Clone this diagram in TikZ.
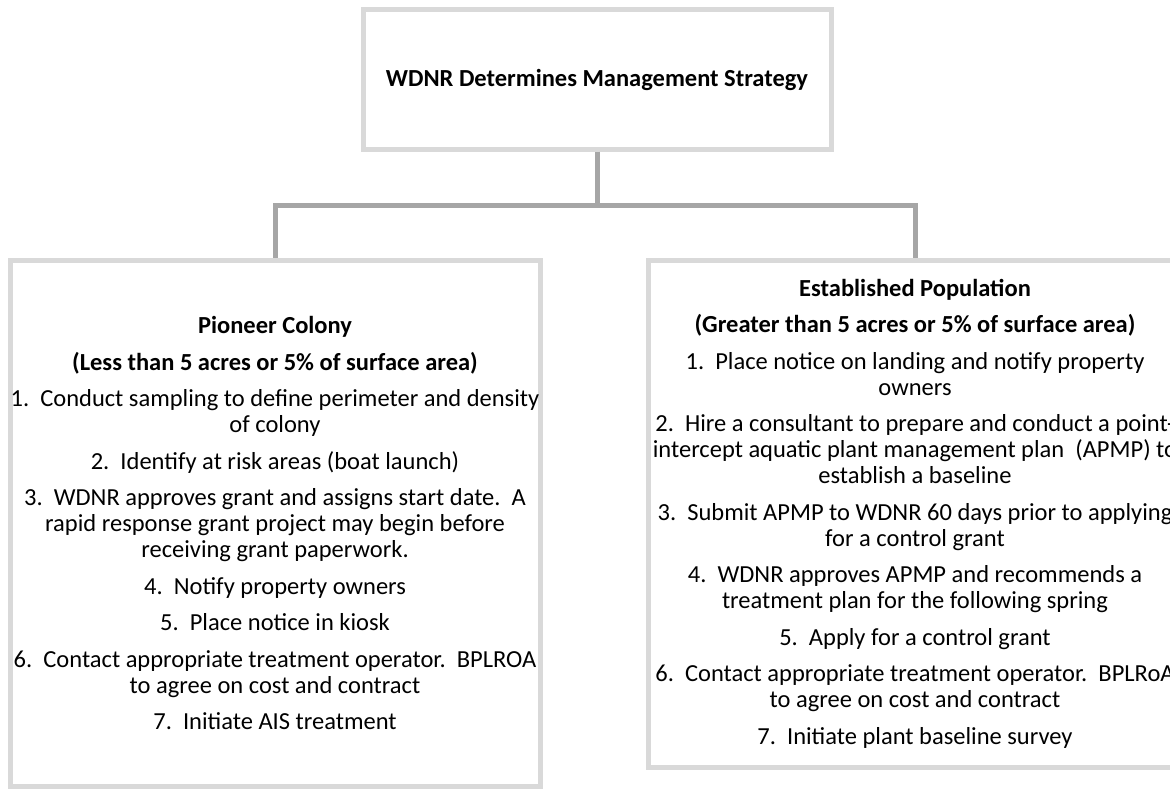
\documentclass[tikz,border=0pt]{standalone}
\usepackage{fontspec}
\setmainfont{Carlito}
\usetikzlibrary{positioning}

\definecolor{boxgray}{HTML}{D9D9D9}
\definecolor{linkgray}{HTML}{A6A6A6}

% space between numbered steps
\newcommand{\stepgap}{\\[10.5pt]}

\begin{document}
\begin{tikzpicture}[x=1pt, y=-1pt,
	box/.style={
		draw=boxgray, line width=5pt, inner sep=0pt,
		align=center, font=\fontsize{24.5}{26}\selectfont
	},
	line/.style={draw=linkgray, line width=5pt}
]
\path[use as bounding box, clip] (0,0) rectangle (1170,792);

% Nodes
% top box:   x 363..831,  y 10..149
% left box:  x 10..540,   y 260..786
% right box: x 648..1182, y 260..767 (runs off the page)
\node[box, minimum width=468pt, minimum height=139pt] (wdnr) at (597,79.5)
	{\textbf{WDNR Determines Management Strategy}};

\node[box, minimum width=530pt, minimum height=526pt] (pioneer) at (275,523) {%
	\textbf{Pioneer Colony}\stepgap
	\textbf{(Less than 5 acres or 5\% of surface area)}\stepgap
	1.~~Conduct sampling to define perimeter and density\\of colony\stepgap
	2.~~Identify at risk areas (boat launch)\stepgap
	3.~~WDNR approves grant and assigns start date.~~A\\
	rapid response grant project may begin before\\
	receiving grant paperwork.\stepgap
	4.~~Notify property owners\stepgap
	5.~~Place notice in kiosk\stepgap
	6.~~Contact appropriate treatment operator.~~BPLROA\\to agree on cost and contract\stepgap
	7.~~Initiate AIS treatment};

\node[box, minimum width=534pt, minimum height=507pt] (established) at (915,513.5) {%
	\textbf{Established Population}\stepgap
	\textbf{(Greater than 5 acres or 5\% of surface area)}\stepgap
	1.~~Place notice on landing and notify property\\owners\stepgap
	2.~~Hire a consultant to prepare and conduct a point-\\
	intercept aquatic plant management plan~~(APMP) to\\
	establish a baseline\stepgap
	3.~~Submit APMP to WDNR 60 days prior to applying\\for a control grant\stepgap
	4.~~WDNR approves APMP and recommends a\\treatment plan for the following spring\stepgap
	5.~~Apply for a control grant\stepgap
	6.~~Contact appropriate treatment operator.~~BPLRoA\\to agree on cost and contract\stepgap
	7.~~Initiate plant baseline survey};

% Connectors: down from the top box, then split to both sides
\coordinate (fork) at (597,205);
\draw[line] (wdnr.south) -- (fork);
\draw[line] (fork) -| (pioneer.north);
\draw[line] (fork) -| (established.north);

\end{tikzpicture}
\end{document}
